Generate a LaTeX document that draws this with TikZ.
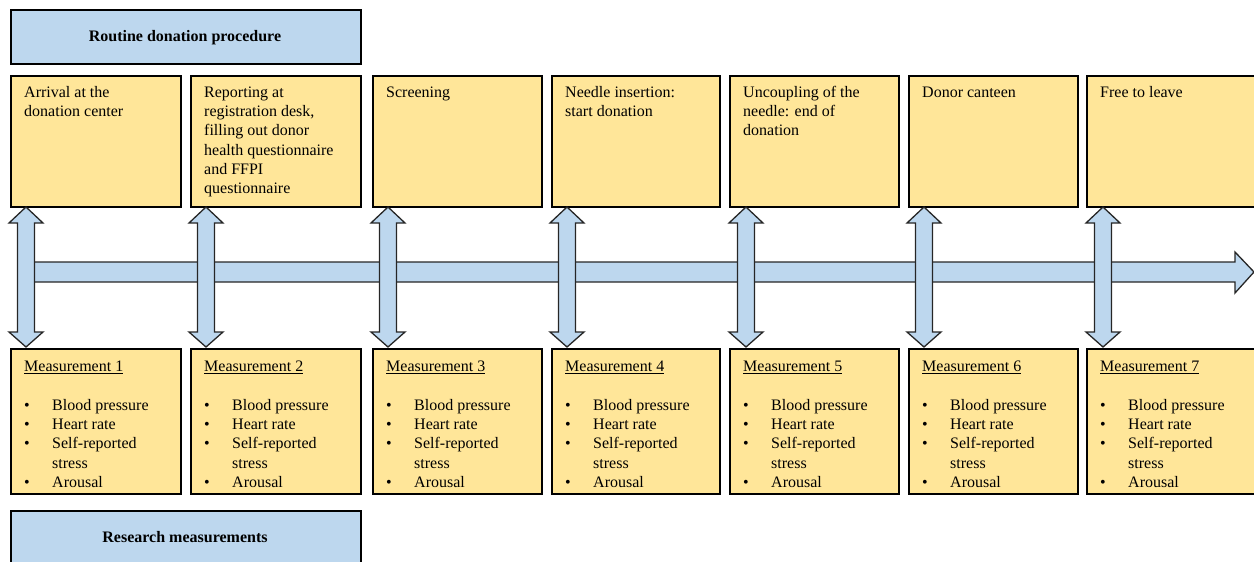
\documentclass[tikz,border=0pt]{standalone}
\usepackage{fontspec}
\setmainfont{Liberation Serif}
\definecolor{boxyellow}{HTML}{FFE699}
\definecolor{boxblue}{HTML}{BDD7EE}
\begin{document}
\begin{tikzpicture}[x=1pt,y=-1pt,
  ybox/.style={draw=black, line width=1.6pt, fill=boxyellow, anchor=north west, inner sep=0pt},
  bbox/.style={draw=black, line width=1.6pt, fill=boxblue, anchor=north west, inner sep=0pt, minimum width=350pt},
  txt/.style={anchor=base west, inner sep=0pt, font=\fontsize{16}{19}\selectfont},
  htxt/.style={anchor=base, inner sep=0pt, font=\fontsize{16}{19}\selectfont\bfseries},
  blockarrow/.style={draw=black!85, line width=1.3pt, fill=boxblue, line join=miter}]
\useasboundingbox (0,0) rectangle (1254,562);
% headers
\node[bbox, minimum height=54pt] (hdrtop) at (10,9) {};
\node[htxt] (hdrtoptxt) at (185,41.7) {Routine donation procedure};
\node[bbox, minimum height=60pt] (hdrbot) at (10,510) {};
\node[htxt] (hdrbottxt) at (185,542) {Research measurements};
% top boxes with text
\foreach \x/\w/\lines [count=\i] in {
  10/170/{Arrival at the,donation center},
  190/170/{Reporting at,{registration desk,},filling out donor,health questionnaire,and FFPI,questionnaire},
  372/169/{Screening},
  551/168/{Needle insertion:,start donation},
  729/169/{Uncoupling of the,needle: end of,donation},
  908/169/{Donor canteen},
  1086/200/{Free to leave}} {
  \node[ybox, minimum width=\w pt, minimum height=131pt] (t\i) at (\x,75) {};
  \foreach \l [count=\k] in \lines {
    \node[txt] (t\i-\k) at (\x+14, 97.3+19.33*\k-19.33) {\l};
  }
}
% bottom boxes
\foreach \x/\w [count=\i] in {10/170,190/170,372/169,551/168,729/169,908/169,1086/200} {
  \node[ybox, minimum width=\w pt, minimum height=145pt] (m\i) at (\x,348) {};
  \node[txt] (m\i-h) at (\x+14,371.7) {\underline{Measurement \i}};
  \foreach \yy [count=\k] in {410, 429.3, 448.7, 487.3} {
    \node[txt] (m\i-b\k) at (\x+14,\yy) {\textbullet};
  }
  \node[txt] (m\i-1) at (\x+42,410) {Blood pressure};
  \node[txt] (m\i-2) at (\x+42,429.3) {Heart rate};
  \node[txt] (m\i-3) at (\x+42,448.7) {Self-reported};
  \node[txt] (m\i-4) at (\x+42,468) {stress};
  \node[txt] (m\i-5) at (\x+42,487.3) {Arousal};
}
% horizontal timeline arrow
\coordinate (tl-end) at (1254,272);
\draw[blockarrow] (30,262) -- (1235,262) -- (1235,252) -- (tl-end) -- (1235,293) -- (1235,282) -- (30,282);
% vertical double arrows
\foreach \c in {26,206,388,567,746,924,1103} {
  \draw[blockarrow] (\c,207) -- (\c+17,223) -- (\c+8.5,223) -- (\c+8.5,332) -- (\c+17,332) -- (\c,347)
     -- (\c-17,332) -- (\c-8.5,332) -- (\c-8.5,223) -- (\c-17,223) -- cycle;
}
\end{tikzpicture}
\end{document}
